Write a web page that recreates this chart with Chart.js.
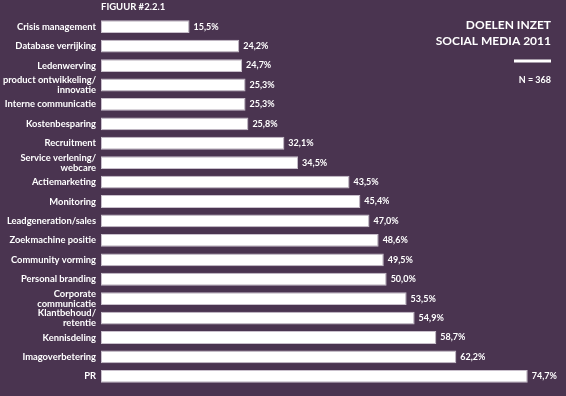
<!DOCTYPE html>
<html>
<head>
<meta charset="utf-8">
<script src="https://cdn.jsdelivr.net/npm/chart.js@4/dist/chart.umd.min.js"></script>
<style>
  html, body { margin: 0; padding: 0; background: #4a3450; }
  canvas { display: block; }
</style>
</head>
<body>
<canvas id="doelenChart" width="566" height="396"></canvas>
<script>
// Categories (top to bottom) and percentages
const categories = [
    'Crisis management',
    'Database verrijking',
    'Ledenwerving',
    ['product ontwikkeling/', 'innovatie'],
    'Interne communicatie',
    'Kostenbesparing',
    'Recruitment',
    ['Service verlening/', 'webcare'],
    'Actiemarketing',
    'Monitoring',
    'Leadgeneration/sales',
    'Zoekmachine positie',
    'Community vorming',
    'Personal branding',
    ['Corporate', 'communicatie'],
    ['Klantbehoud/', 'retentie'],
    'Kennisdeling',
    'Imagoverbetering',
    'PR'
];
const percentages = [15.5, 24.2, 24.7, 25.3, 25.3, 25.8, 32.1, 34.5, 43.5, 45.4, 47.0, 48.6, 49.5, 50.0, 53.5, 54.9, 58.7, 62.2, 74.7];

const FONT = 'Lato, "Open Sans", sans-serif';

// Draws value labels next to each bar plus the header texts
const annotations = {
    id: 'annotations',
    afterDatasetsDraw(chart) {
        const { ctx } = chart;
        const meta = chart.getDatasetMeta(0);
        ctx.save();
        ctx.fillStyle = '#ffffff';
        ctx.font = 'bold 9px ' + FONT;
        ctx.textAlign = 'left';
        ctx.textBaseline = 'middle';
        meta.data.forEach((bar, i) => {
            const txt = percentages[i].toFixed(1).replace('.', ',') + '%';
            ctx.fillText(txt, bar.x + 4, bar.y);
        });

        // header
        ctx.font = 'bold 9.5px ' + FONT;
        ctx.fillText('FIGUUR #2.2.1', 101, 7);

        ctx.textAlign = 'right';
        ctx.font = 'bold 12px ' + FONT;
        ctx.fillText('DOELEN INZET', 551, 25);
        ctx.fillText('SOCIAL MEDIA 2011', 551, 41);

        ctx.fillRect(514, 59.5, 37, 3);

        ctx.font = 'bold 9px ' + FONT;
        ctx.fillText('N = 368', 551, 80);
        ctx.restore();
    }
};

const config = {
    type: 'bar',
    data: {
        labels: categories,
        datasets: [{
            data: percentages,
            backgroundColor: '#ffffff',
            borderColor: '#c9c0cc',
            borderWidth: 1,
            borderSkipped: false,
            categoryPercentage: 1,
            barPercentage: 0.66
        }]
    },
    plugins: [annotations],
    options: {
        indexAxis: 'y',
        responsive: false,
        animation: false,
        layout: {
            padding: { left: 0, right: 8, top: 17, bottom: 4 }
        },
        plugins: {
            legend: { display: false },
            tooltip: { enabled: false }
        },
        scales: {
            x: {
                display: false,
                min: 0,
                max: 80
            },
            y: {
                grid: { display: false, drawTicks: false },
                border: { display: false },
                afterFit(scale) {
                    scale.width = 101;
                },
                ticks: {
                    color: '#ffffff',
                    padding: 5,
                    autoSkip: false,
                    font: {
                        family: FONT,
                        size: 9.4,
                        weight: 'bold',
                        lineHeight: 1.05
                    }
                }
            }
        }
    }
};

const doelenChart = new Chart(document.getElementById('doelenChart'), config);
</script>
</body>
</html>
